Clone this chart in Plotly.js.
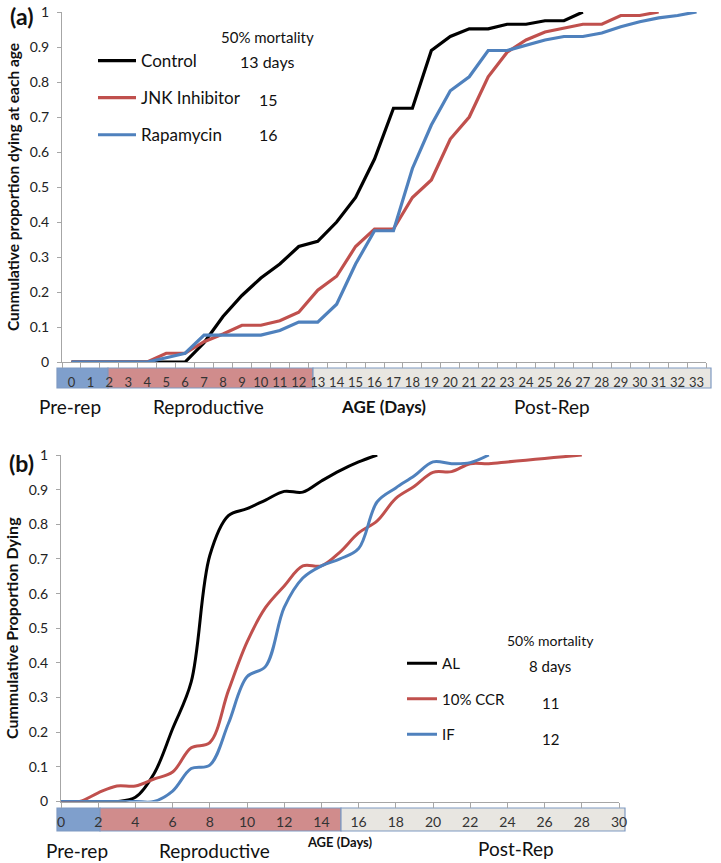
<!DOCTYPE html>
<html><head><meta charset="utf-8">
<script src="https://cdn.plot.ly/plotly-3.0.1.min.js"></script>
<style>html,body{margin:0;padding:0;background:#fff}</style>
</head><body><div id="chart" style="width:721px;height:863px"></div>
<script>
// ---- Panel (a) data ----
const ageA = [0,1,2,3,4,5,6,7,8,9,10,11,12,13,14,15,16,17,18,19,20,21,22,23,24,25,26,27,28,29,30,31,32,33];
const tickTextA = ["0","1","2","3","4","5","6","7","8","9","10","11","12","13","14","15","16","17","18","19","20","21","22","23","24","25","26","27","28","29","30","31","32","33"];
const controlA = [0,0,0,0,0,0,0,0.055,0.13,0.19,0.24,0.28,0.33,0.345,0.40,0.47,0.58,0.725,0.725,0.89,0.93,0.952,0.952,0.965,0.965,0.975,0.975,1.0];
const jnkA = [0,0,0,0,0,0.025,0.025,0.058,0.08,0.105,0.105,0.118,0.142,0.205,0.245,0.33,0.38,0.38,0.47,0.52,0.637,0.70,0.815,0.885,0.92,0.943,0.953,0.965,0.965,0.99,0.99,1.0];
const rapaA = [0,0,0,0,0,0.012,0.025,0.077,0.077,0.077,0.077,0.09,0.114,0.114,0.165,0.28,0.375,0.375,0.553,0.677,0.775,0.815,0.89,0.89,0.905,0.92,0.93,0.93,0.94,0.958,0.972,0.983,0.99,1.0];
const namesA = ["Control","JNK Inhibitor","Rapamycin"];
const mortalityA = ["13 days","15","16"];

// ---- Panel (b) data ----
const ageB = [0,1,2,3,4,5,6,7,8,9,10,11,12,13,14,15,16,17,18,19,20,21,22,23,24,25,26,27,28];
const alB  = [0,0,0,0,0.012,0.08,0.21,0.345,0.71,0.825,0.845,0.87,0.895,0.893,0.925,0.955,0.98,1.0];
const ccrB = [0,0,0.025,0.045,0.045,0.065,0.085,0.155,0.17,0.32,0.46,0.56,0.622,0.68,0.68,0.72,0.775,0.81,0.875,0.91,0.95,0.952,0.975,0.975,0.98,0.985,0.99,0.995,1.0];
const ifB  = [0,0,0,0,0,0,0.03,0.095,0.105,0.225,0.36,0.39,0.56,0.645,0.68,0.70,0.73,0.865,0.905,0.94,0.98,0.975,0.978,1.0];
const namesB = ["AL","10% CCR","IF"];
const mortalityB = ["8 days","11","12"];
const tickValsB = [0,2,4,6,8,10,12,14,16,18,20,22,24,26,28,30];

const yTicks = [0,0.1,0.2,0.3,0.4,0.5,0.6,0.7,0.8,0.9,1];
const yTickText = ["0","0.1","0.2","0.3","0.4","0.5","0.6","0.7","0.8","0.9","1"];

const BLACK = "#000000", RED = "#c0504d", BLUE = "#4f81bd";
const W = 721, H = 863;
const px = v => v / W, py = v => 1 - v / H;

const traces = [
  {x: ageA, y: controlA, name: namesA[0], xaxis: "x", yaxis: "y", mode: "lines", line: {color: BLACK, width: 3.2}, legend: "legend", legendgroup: "a1"},
  {x: ageA, y: jnkA, name: namesA[1], xaxis: "x", yaxis: "y", mode: "lines", line: {color: RED, width: 3.2}, legend: "legend", legendgroup: "a2"},
  {x: ageA, y: rapaA, name: namesA[2], xaxis: "x", yaxis: "y", mode: "lines", line: {color: BLUE, width: 3.2}, legend: "legend", legendgroup: "a3"},
  {x: ageB, y: alB, name: namesB[0], xaxis: "x2", yaxis: "y2", mode: "lines", line: {color: BLACK, width: 3, shape: "spline", smoothing: 1}, legend: "legend2", legendgroup: "b1"},
  {x: ageB, y: ccrB, name: namesB[1], xaxis: "x2", yaxis: "y2", mode: "lines", line: {color: RED, width: 3, shape: "spline", smoothing: 1}, legend: "legend2", legendgroup: "b2"},
  {x: ageB, y: ifB, name: namesB[2], xaxis: "x2", yaxis: "y2", mode: "lines", line: {color: BLUE, width: 3, shape: "spline", smoothing: 1}, legend: "legend2", legendgroup: "b3"}
];

const AX = "#a6a6a6";
const FONT = "Lato, 'Open Sans', sans-serif";

function band(x0, x1, y0, y1, fill) {
  return {type: "rect", xref: "paper", yref: "paper", layer: "below",
    x0: px(x0), x1: px(x1), y0: py(y1), y1: py(y0),
    fillcolor: fill, line: {color: "#7f9ac2", width: 1.2}};
}
const BL = "#7f9fcc", RD = "#d08c8c", GR = "#e8e6e1";

function ann(text, x, y, size, opts) {
  return Object.assign({xref: "paper", yref: "paper", x: px(x), y: py(y), text: text, showarrow: false,
    xanchor: "center", yanchor: "middle", font: {size: size, color: "#111", family: FONT}}, opts || {});
}

const layout = {
  width: W, height: H,
  margin: {l: 0, r: 0, t: 0, b: 0},
  paper_bgcolor: "#fff", plot_bgcolor: "rgba(0,0,0,0)",
  font: {family: FONT, color: "#222"},
  xaxis: {
    domain: [px(62), px(706)], range: [-0.5, 33.5], anchor: "y",
    tickmode: "array", tickvals: ageA, ticktext: tickTextA, ticks: "",
    ticklabelstandoff: 8, tickfont: {size: 13, color: "#333"},
    minor: {tickmode: "linear", tick0: -0.5, dtick: 1, ticks: "outside", ticklen: 5, tickcolor: AX, showgrid: false},
    showline: true, linecolor: AX, linewidth: 1, showgrid: false, zeroline: false,
    title: {text: "<b>AGE (Days)</b>", font: {size: 17, color: "#111"}, standoff: 12}
  },
  yaxis: {
    domain: [py(362), py(12)], range: [0, 1], anchor: "x",
    tickmode: "array", tickvals: yTicks, ticktext: yTickText,
    ticks: "outside", ticklen: 4, tickcolor: AX, ticklabelstandoff: 5,
    tickfont: {size: 14, color: "#222"},
    showline: true, linecolor: AX, showgrid: false, zeroline: false,
    title: {text: "<b>Cunmulative proportion dying at each age</b>", font: {size: 15.5, color: "#111"}, standoff: 6}
  },
  xaxis2: {
    domain: [px(61), px(619)], range: [0, 30], anchor: "y2",
    tickmode: "array", tickvals: tickValsB, ticks: "outside", ticklen: 5, tickcolor: AX,
    ticklabelstandoff: 3, tickfont: {size: 14, color: "#333"},
    showline: true, linecolor: AX, showgrid: false, zeroline: false,
    title: {text: "<b>AGE (Days)</b>", font: {size: 13, color: "#111"}, standoff: 8}
  },
  yaxis2: {
    domain: [py(801.5), py(455)], range: [0, 1], anchor: "x2",
    tickmode: "array", tickvals: yTicks, ticktext: yTickText,
    ticks: "outside", ticklen: 4, tickcolor: AX, ticklabelstandoff: 5,
    tickfont: {size: 14, color: "#222"},
    showline: true, linecolor: AX, showgrid: false, zeroline: false,
    title: {text: "<b>Cummulative Proportion Dying</b>", font: {size: 16, color: "#111"}, standoff: 6}
  },
  legend: {x: px(93), y: py(43), xanchor: "left", yanchor: "top", bgcolor: "rgba(0,0,0,0)",
    font: {size: 17, color: "#111"}, traceorder: "grouped", tracegroupgap: 12, itemwidth: 38},
  legend2: {x: px(402), y: py(647), xanchor: "left", yanchor: "top", bgcolor: "rgba(0,0,0,0)",
    font: {size: 15, color: "#111"}, traceorder: "grouped", tracegroupgap: 13, itemwidth: 30},
  shapes: [
    band(57, 108, 368, 388, BL), band(108, 313, 368, 388, RD), band(313, 711, 368, 388, GR),
    band(57, 100, 808, 831, BL), band(100, 341, 808, 831, RD), band(341, 625, 808, 831, GR)
  ],
  annotations: [
    ann("<b>(a)</b>", 21, 16, 23),
    ann("<b>(b)</b>", 21, 463, 23),
    ann("Pre-rep", 70, 407, 19), ann("Reproductive", 208, 407, 19), ann("Post-Rep", 552, 407, 19),
    ann("Pre-rep", 77, 850, 19), ann("Reproductive", 215, 850, 19), ann("Post-Rep", 516, 848, 19),
    ann("50% mortality", 267, 37, 15),
    ann(mortalityA[0], 267, 62, 16), ann(mortalityA[1], 268, 99, 16), ann(mortalityA[2], 268, 135, 16),
    ann("50% mortality", 550, 640, 14),
    ann(mortalityB[0], 550, 666, 15), ann(mortalityB[1], 550, 703, 15), ann(mortalityB[2], 550, 739, 15)
  ],
  showlegend: true
};

Plotly.newPlot("chart", traces, layout, {staticPlot: true, displayModeBar: false});
</script>
</body></html>
